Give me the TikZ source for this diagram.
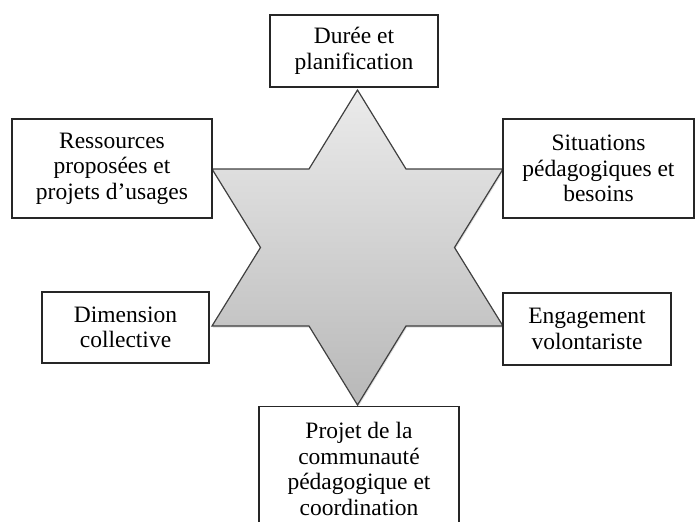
\documentclass[tikz,border=0pt]{standalone}
\usepackage{fontspec}
\setmainfont{Liberation Serif}
\usetikzlibrary{shadows}
\definecolor{startop}{RGB}{235,235,235}
\definecolor{starbot}{RGB}{184,184,184}
\definecolor{starline}{RGB}{64,64,64}
\begin{document}
\begin{tikzpicture}[x=1pt,y=-1pt,
  box/.style={draw=black!85, line width=1.1pt, fill=white, align=center, inner sep=0pt,
              font=\fontsize{23.5}{25.5}\selectfont},
  starshape/.style={draw=starline, line width=1.2pt, line join=miter,
              top color=startop, bottom color=starbot,
              drop shadow={opacity=0.25, shadow xshift=1pt, shadow yshift=-1.5pt}}]
\useasboundingbox (0,0) rectangle (696,522);
% star points
\coordinate (s1) at (357.5,90);
\coordinate (s2) at (406,169);
\coordinate (s3) at (503,169);
\coordinate (s4) at (454.5,247.5);
\coordinate (s5) at (503,326);
\coordinate (s6) at (406,326);
\coordinate (s7) at (357.5,405);
\coordinate (s8) at (309,326);
\coordinate (s9) at (212,326);
\coordinate (s10) at (260.5,247.5);
\coordinate (s11) at (212,169);
\coordinate (s12) at (309,169);
\path[starshape] (s1) -- (s2) -- (s3) -- (s4) -- (s5) -- (s6) -- (s7) -- (s8) -- (s9) -- (s10) -- (s11) -- (s12) -- cycle;
% boxes
\node[box, minimum width=168pt, minimum height=72pt] (duree) at (354,51) {Durée et\\planification};
\node[box, minimum width=200pt, minimum height=99pt] (ressources) at (112,168.5) {Ressources\\proposées et\\projets d’usages};
\node[box, minimum width=191pt, minimum height=99pt] (situations) at (598.5,168.5) {Situations\\pédagogiques et\\besoins};
\node[box, minimum width=167pt, minimum height=71pt] (dimension) at (125.5,327.5) {Dimension\\collective};
\node[box, minimum width=168pt, minimum height=72pt] (engagement) at (587,329) {Engagement\\volontariste};
\node[box, minimum width=200pt, minimum height=125pt, anchor=north] (projet) at (359,406) {Projet de la\\communauté\\pédagogique et\\coordination};
\end{tikzpicture}
\end{document}
